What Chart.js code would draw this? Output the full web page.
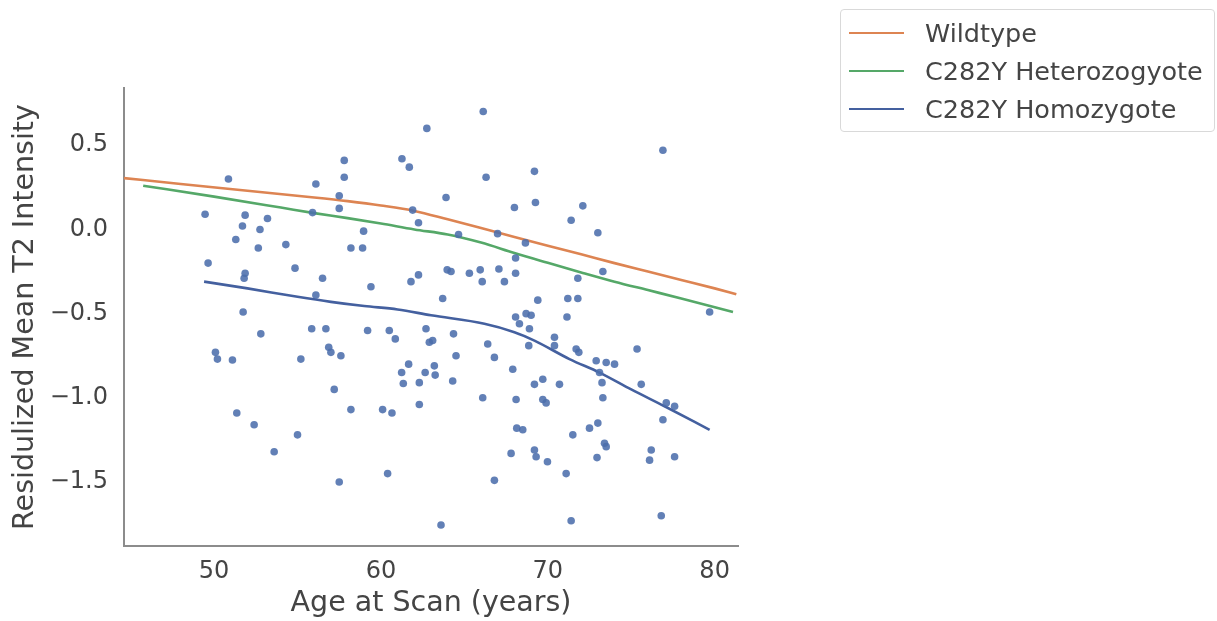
<!DOCTYPE html>
<html>
<head>
<meta charset="utf-8">
<script src="https://cdn.jsdelivr.net/npm/chart.js@4/dist/chart.umd.min.js"></script>
<style>
  html, body { margin: 0; padding: 0; background: #fff; }
  #wrap { position: relative; width: 1217px; height: 621px; }
  #legenda {
    position: absolute; left: 840px; top: 9px; width: 375px; height: 123px;
    box-sizing: border-box; border: 1px solid #d9d9d9; border-radius: 4px;
    font-family: 'DejaVu Sans', sans-serif; font-size: 25.5px; color: #444;
    padding-top: 4px;
  }
  .item { height: 38px; display: flex; align-items: center; }
  .amostra { width: 55px; height: 0; border-top: 2.5px solid; margin-left: 8px; margin-right: 21px; }
</style>
</head>
<body>
<div id="wrap">
  <canvas id="grafico" width="1217" height="621"></canvas>
  <div id="legenda"></div>
</div>
<script>
// pontos (idade, intensidade residualizada)
const pontosX = [
  50.86, 56.1, 49.46, 51.86, 53.2, 51.7, 52.75, 55.9, 51.3, 52.65, 54.3, 49.64, 54.85, 51.86, 51.8, 56.5, 56.1, 51.74,
  66.13, 62.75, 57.8, 61.26, 61.7, 57.8, 66.3, 69.2, 63.9, 57.5, 57.5, 69.26, 68.0, 61.9, 62.25, 58.96, 64.65, 66.99,
  68.66, 58.2, 58.9, 68.07, 63.97, 64.2, 65.3, 65.95, 67.07, 68.07, 62.25, 61.8, 66.07, 67.4, 59.4, 63.7, 69.4, 68.07,
  68.7, 69.0,
  76.9, 72.1, 71.4, 73.0, 73.3, 71.8, 71.2, 71.8, 71.15, 79.7,
  52.8, 55.85, 56.7, 50.08, 50.2, 51.1, 55.2, 56.87, 57.0, 57.2, 51.36, 52.4, 55.0, 53.6,
  57.5, 60.4, 58.2, 60.1, 60.66, 61.24, 61.34, 61.66, 62.3, 62.3, 57.6,
  59.2, 60.5, 60.86, 62.7, 62.9, 63.1, 64.35, 64.5, 66.4, 66.8, 68.3, 68.9, 68.86, 62.65, 63.2, 63.25, 64.3, 66.1,
  67.9, 69.2, 68.1, 68.14, 68.5, 67.8, 69.2, 69.3, 66.8, 63.6,
  70.4, 70.4, 71.7, 71.86, 75.35, 72.9, 73.5, 74.0, 73.1, 73.25, 73.3, 75.6, 69.7, 70.7, 69.7, 69.9, 77.1, 77.6,
  76.9, 73.0, 72.5, 71.5, 73.4, 73.5, 72.95, 69.98, 71.1, 76.2, 76.1, 77.6, 71.4, 76.8
];
const pontosY = [
  0.30, 0.27, 0.09, 0.085, 0.065, 0.02, 0.0, 0.10, -0.06, -0.11, -0.09, -0.20, -0.23, -0.26, -0.29, -0.29, -0.39, -0.49,
  0.70, 0.60, 0.41, 0.42, 0.37, 0.31, 0.31, 0.345, 0.19, 0.20, 0.125, 0.16, 0.13, 0.115, 0.04, -0.01, -0.03, -0.025,
  -0.08, -0.11, -0.11, -0.17, -0.24, -0.25, -0.26, -0.24, -0.235, -0.26, -0.27, -0.31, -0.31, -0.31, -0.34, -0.41, -0.42, -0.52,
  -0.50, -0.51,
  0.47, 0.14, 0.055, -0.02, -0.25, -0.29, -0.41, -0.41, -0.52, -0.49,
  -0.62, -0.59, -0.59, -0.73, -0.77, -0.775, -0.77, -0.70, -0.73, -0.95, -1.09, -1.16, -1.22, -1.32,
  -1.50, -1.45, -1.07, -1.07, -1.09, -0.85, -0.915, -0.80, -0.91, -1.04, -0.75,
  -0.60, -0.60, -0.65, -0.59, -0.67, -0.66, -0.62, -0.75, -0.68, -0.76, -0.56, -0.59, -0.69, -0.85, -0.81, -0.865, -0.90, -1.00,
  -0.83, -0.92, -1.01, -1.18, -1.19, -1.33, -1.31, -1.35, -1.49, -1.755,
  -0.64, -0.69, -0.71, -0.73, -0.71, -0.78, -0.79, -0.80, -0.85, -0.91, -1.00, -0.92, -0.89, -0.92, -1.01, -1.03, -1.03, -1.05,
  -1.13, -1.15, -1.18, -1.22, -1.27, -1.29, -1.355, -1.38, -1.45, -1.31, -1.37, -1.35, -1.73, -1.70
];

// curvas de tendência por genótipo
const wildX = [44.6, 48, 52, 56, 58, 60, 62, 64, 66, 68, 70, 72, 74, 76, 78, 80, 81.3];
const wildY = [0.305, 0.27, 0.23, 0.19, 0.168, 0.142, 0.11, 0.06, 0.008, -0.045, -0.097, -0.148, -0.20, -0.25, -0.30, -0.35, -0.385];

const heteroX = [45.75, 50, 54, 56, 58, 60, 62, 64, 66, 68, 70, 72, 74, 76, 78, 81.1];
const heteroY = [0.26, 0.195, 0.13, 0.097, 0.067, 0.035, 0.0, -0.03, -0.078, -0.14, -0.198, -0.255, -0.31, -0.36, -0.41, -0.49];

const homoX = [49.4, 52, 55, 57, 59, 61, 63, 66.2, 68, 69.2, 71.3, 73.1, 75, 77, 79.7];
const homoY = [-0.31, -0.35, -0.40, -0.43, -0.455, -0.475, -0.51, -0.56, -0.61, -0.66, -0.77, -0.85, -0.95, -1.05, -1.19];

const nomes = ['Wildtype', 'C282Y Heterozogyote', 'C282Y Homozygote'];
const cores = ['#dd8452', '#55a868', '#44609f'];

const ticksX = [50, 60, 70, 80];
const ticksY = [-1.5, -1.0, -0.5, 0.0, 0.5];

const juntar = (xs, ys) => xs.map((x, i) => ({ x: x, y: ys[i] }));

const fonte = 'DejaVu Sans';
const corTexto = '#444';
const corEixo = '#8c8c8c';

const curvas = [[wildX, wildY], [heteroX, heteroY], [homoX, homoY]].map((c, i) => ({
    label: nomes[i],
    data: juntar(c[0], c[1]),
    showLine: true,
    borderColor: cores[i],
    borderWidth: 2.6,
    pointRadius: 0,
    cubicInterpolationMode: 'monotone',
    fill: false
}));

new Chart(document.getElementById('grafico'), {
    type: 'scatter',
    data: {
        datasets: [{
            label: 'pontos',
            data: juntar(pontosX, pontosY),
            backgroundColor: 'rgba(76, 110, 172, 0.88)',
            borderWidth: 0,
            pointRadius: 3.8
        }].concat(curvas)
    },
    options: {
        responsive: false,
        animation: false,
        devicePixelRatio: 1,
        layout: { padding: { top: 88, right: 479, left: 0, bottom: 0 } },
        plugins: { legend: { display: false }, tooltip: { enabled: false } },
        scales: {
            x: {
                type: 'linear',
                min: 44.6,
                max: 81.4,
                afterFit: s => { s.height = 75; },
                afterBuildTicks: s => { s.ticks = ticksX.map(v => ({ value: v })); },
                grid: { drawOnChartArea: false, drawTicks: false },
                border: { display: true, color: corEixo, width: 2 },
                ticks: { padding: 11, color: corTexto, font: { family: fonte, size: 24 } },
                title: {
                    display: true, text: 'Age at Scan (years)', color: corTexto,
                    font: { family: fonte, size: 28.5 }, padding: { top: 0, bottom: 0 }
                }
            },
            y: {
                type: 'linear',
                min: -1.88,
                max: 0.84,
                afterFit: s => { s.width = 124; },
                afterBuildTicks: s => { s.ticks = ticksY.map(v => ({ value: v })); },
                grid: { drawOnChartArea: false, drawTicks: false },
                border: { display: true, color: corEixo, width: 2 },
                ticks: {
                    padding: 16, color: corTexto, font: { family: fonte, size: 24 },
                    callback: v => v.toFixed(1).replace('-', '\u2212')
                },
                title: {
                    display: true, text: 'Residulized Mean T2 Intensity', color: corTexto,
                    font: { family: fonte, size: 28.5 }, padding: { top: 8, bottom: 0 }
                }
            }
        }
    }
});

// legenda fora da área do gráfico
const legenda = document.getElementById('legenda');
nomes.forEach((n, i) => {
    const item = document.createElement('div');
    item.className = 'item';
    item.innerHTML = `<span class="amostra" style="border-color:${cores[i]}"></span><span>${n}</span>`;
    legenda.appendChild(item);
});
</script>
</body>
</html>
